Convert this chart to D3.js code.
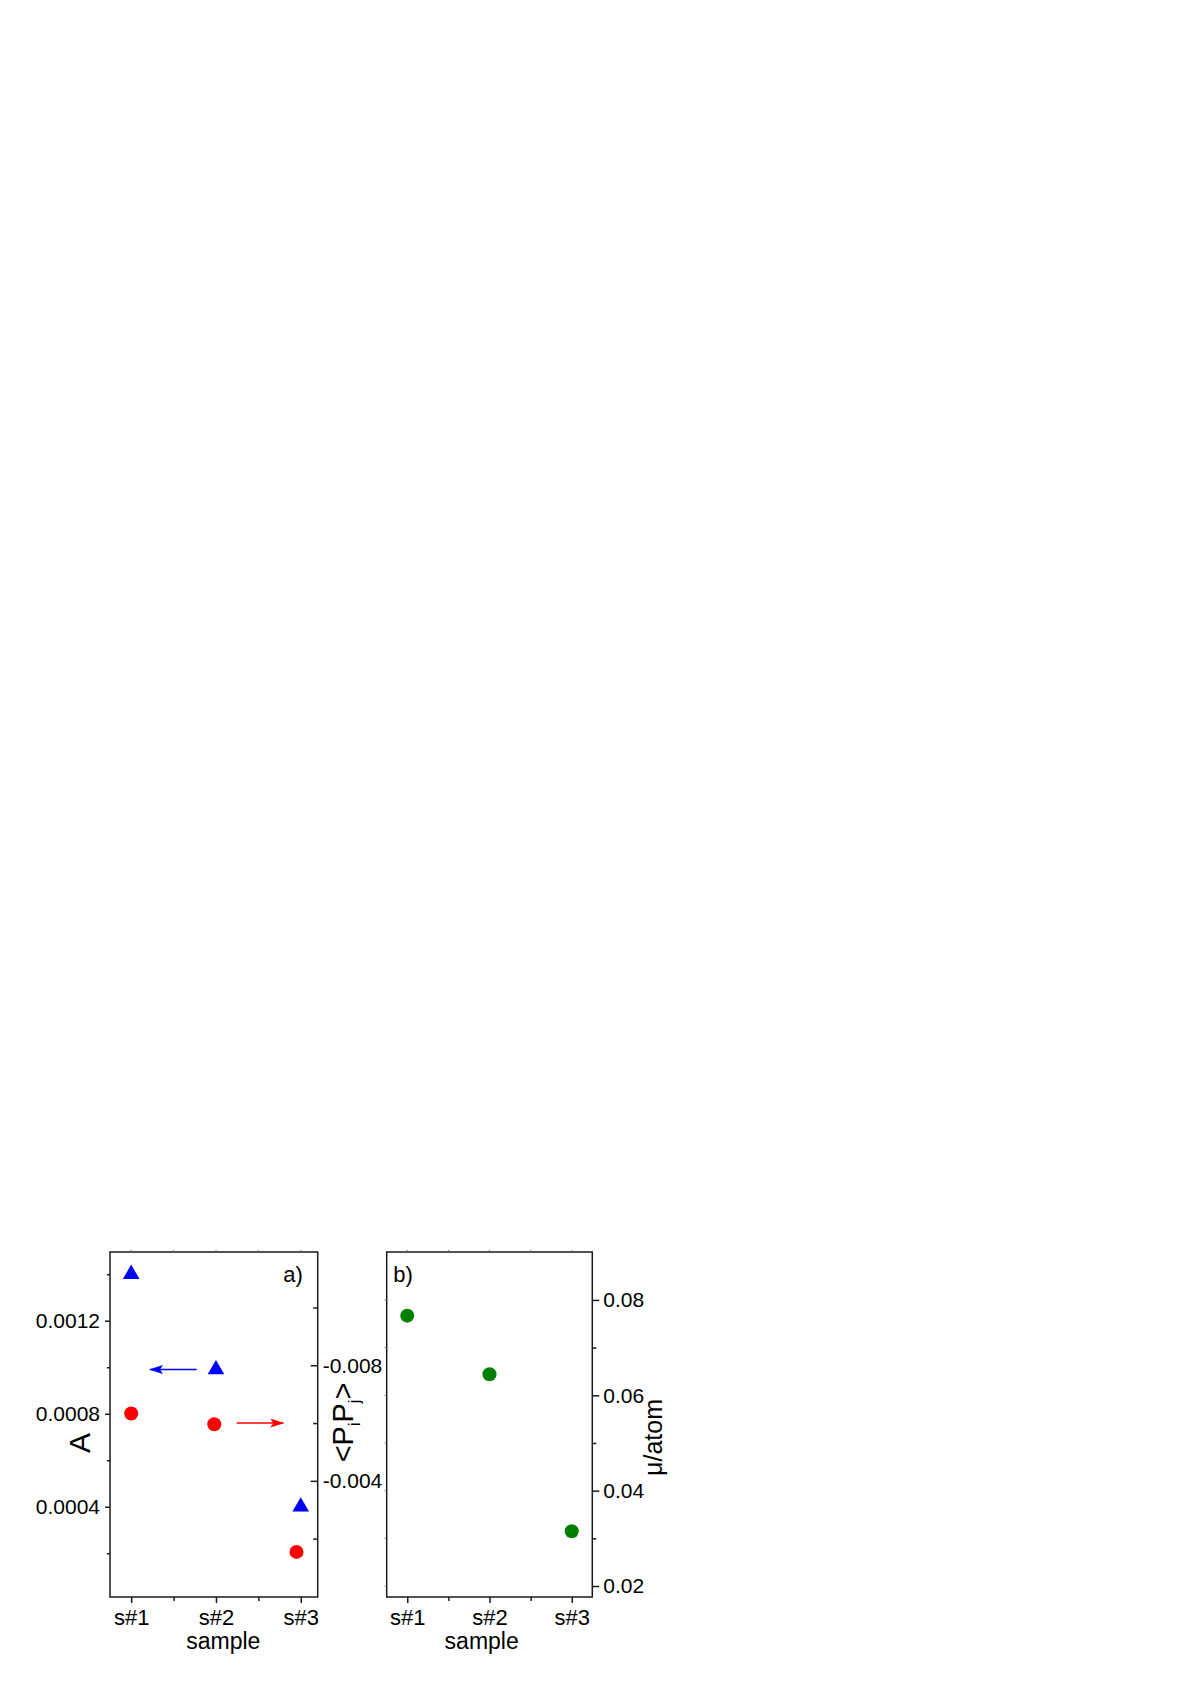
<!DOCTYPE html>
<html>
<head>
<meta charset="utf-8">
<script src="https://cdn.jsdelivr.net/npm/d3@7/dist/d3.min.js"></script>
<style>
  html, body { margin: 0; padding: 0; background: #fff; }
  svg { display: block; }
  text { font-family: "Liberation Sans", Arial, sans-serif; fill: #000; }
</style>
</head>
<body>
<svg id="chart" width="1199" height="1696"></svg>
<script>
// ---------------- data ----------------
const categories = ["s#1", "s#2", "s#3"];
const sampleX = [1, 2, 3];

// Panel a) – left axis A (blue triangles)
const aValues = [0.0014, 0.00099, 0.0004];
// Panel a) – right axis <PiPj> (red circles)
const pipjX = [1, 1.98, 2.95];
const pipjValues = [-0.00633, -0.00596, -0.00154];
// Panel b) – right axis μ/atom (green circles)
const muValues = [0.0767, 0.0644, 0.0315];

// tick values
const aTicks = [0.0004, 0.0008, 0.0012];
const aMinor = [0.0002, 0.0006, 0.0010, 0.0014];
const pTicks = [-0.008, -0.004];
const pMinor = [-0.002, -0.006, -0.010];
const muTicks = [0.02, 0.04, 0.06, 0.08];
const muMinor = [0.03, 0.05, 0.07];
const xMinor = [1.5, 2.5];

// arrow annotations (data units)
const arrowBlue = { x1: 1.773, x2: 1.222, y: 0.00099 };
const arrowRed = { x1: 2.244, x2: 2.794, y: -0.006 };

// ---------------- layout ----------------
const svg = d3.select("#chart");
const yTop = 1252, yBottom = 1597;
const pa = { left: 110, right: 317.7 };
const pb = { left: 386.7, right: 592.3 };
const axisColor = "#1a1a1a";
const tickFont = 21;

const xA = d3.scaleLinear().domain([0.75, 3.2]).range([pa.left, pa.right]);
const xB = d3.scaleLinear().domain([0.75, 3.25]).range([pb.left, pb.right]);
const yA = d3.scaleLinear().domain([0.000012, 0.0014955]).range([yBottom, yTop]);
const yP = d3.scaleLinear().domain([0.00002, -0.01192]).range([yBottom, yTop]);
const yM = d3.scaleLinear().domain([0.0177, 0.09005]).range([yBottom, yTop]);

function styleAxis(g, fs) {
  g.selectAll("path.domain").remove();
  g.selectAll("line").attr("stroke", axisColor).attr("stroke-width", 1.5);
  g.selectAll("text").attr("font-size", fs || tickFont).attr("fill", "#000")
    .style("font-family", '"Liberation Sans", Arial, sans-serif');
}

function frame(p) {
  svg.append("rect")
    .attr("x", p.left).attr("y", yTop)
    .attr("width", p.right - p.left).attr("height", yBottom - yTop)
    .attr("fill", "none").attr("stroke", axisColor).attr("stroke-width", 1.5);
}

function mirrorTop(x, vals) {
  svg.append("g").selectAll("line").data(vals).join("line")
    .attr("x1", d => x(d)).attr("x2", d => x(d))
    .attr("y1", yTop).attr("y2", yTop - 2)
    .attr("stroke", "#666").attr("stroke-width", 1);
}

function xAxis(x) {
  const g = svg.append("g").attr("transform", `translate(0,${yBottom})`)
    .call(d3.axisBottom(x).tickValues(sampleX).tickSize(6).tickPadding(5)
      .tickFormat((d, i) => categories[i]));
  styleAxis(g, 22);
  g.selectAll("text").attr("dy", null).attr("y", 28);
  const gm = svg.append("g").attr("transform", `translate(0,${yBottom})`)
    .call(d3.axisBottom(x).tickValues(xMinor).tickSize(4).tickFormat(""));
  styleAxis(gm);
  mirrorTop(x, sampleX.concat(xMinor));
}

// ---------------- Panel a ----------------
frame(pa);
xAxis(xA);

// left axis (A)
{
  const g = svg.append("g").attr("transform", `translate(${pa.left},0)`)
    .call(d3.axisLeft(yA).tickValues(aTicks).tickSize(5).tickPadding(5)
      .tickFormat(d => d.toFixed(4)));
  styleAxis(g);
  const gm = svg.append("g").attr("transform", `translate(${pa.left},0)`)
    .call(d3.axisLeft(yA).tickValues(aMinor).tickSize(3).tickFormat(""));
  styleAxis(gm);
}
// right axis (<PiPj>) – ticks inward, labels outside
{
  const g = svg.append("g").attr("transform", `translate(${pa.right},0)`)
    .call(d3.axisRight(yP).tickValues(pTicks).tickSizeInner(-7).tickSizeOuter(0).tickPadding(5)
      .tickFormat(d => d.toFixed(3)));
  styleAxis(g);
  const gm = svg.append("g").attr("transform", `translate(${pa.right},0)`)
    .call(d3.axisRight(yP).tickValues(pMinor).tickSizeInner(-4.5).tickSizeOuter(0).tickFormat(""));
  styleAxis(gm);
}

// markers
svg.append("g").selectAll("path").data(aValues).join("path")
  .attr("d", d3.symbol(d3.symbolTriangle, 120))
  .attr("transform", (d, i) => `translate(${xA(sampleX[i])},${yA(d)})`)
  .attr("fill", "#0000ff");

svg.append("g").selectAll("circle").data(pipjValues).join("circle")
  .attr("cx", (d, i) => xA(pipjX[i])).attr("cy", d => yP(d))
  .attr("r", 7).attr("fill", "#ff0000");

// arrows
const defs = svg.append("defs");
function marker(id, color) {
  defs.append("marker").attr("id", id)
    .attr("viewBox", "0 0 14 9").attr("refX", 13).attr("refY", 4.5)
    .attr("markerWidth", 14).attr("markerHeight", 9)
    .attr("markerUnits", "userSpaceOnUse").attr("orient", "auto")
    .append("path").attr("d", "M0,0 L14,4.5 L0,9 L3,4.5 Z").attr("fill", color);
}
marker("arrBlue", "#0000ff");
marker("arrRed", "#ff0000");
svg.append("line")
  .attr("x1", xA(arrowBlue.x1)).attr("x2", xA(arrowBlue.x2))
  .attr("y1", yA(arrowBlue.y)).attr("y2", yA(arrowBlue.y))
  .attr("stroke", "#0000ff").attr("stroke-width", 1.6)
  .attr("marker-end", "url(#arrBlue)");
svg.append("line")
  .attr("x1", xA(arrowRed.x1)).attr("x2", xA(arrowRed.x2))
  .attr("y1", yP(arrowRed.y)).attr("y2", yP(arrowRed.y))
  .attr("stroke", "#ff0000").attr("stroke-width", 1.6)
  .attr("marker-end", "url(#arrRed)");

// labels
svg.append("text").attr("x", 283.3).attr("y", 1282).attr("font-size", 22).text("a)");
svg.append("text").attr("transform", "translate(90,1443) rotate(-90)")
  .attr("text-anchor", "middle").attr("font-size", 30).text("A");
{
  const t = svg.append("text").attr("transform", "translate(353,1422.5) rotate(-90)")
    .attr("text-anchor", "middle").attr("font-size", 29);
  t.append("tspan").text("<P");
  t.append("tspan").attr("font-size", 16).attr("dy", 7).text("i");
  t.append("tspan").attr("dy", -7).text("P");
  t.append("tspan").attr("font-size", 16).attr("dy", 7).text("j");
  t.append("tspan").attr("dy", -7).text(">");
}
svg.append("text").attr("x", 223.3).attr("y", 1649).attr("text-anchor", "middle")
  .attr("font-size", 23).text("sample");

// ---------------- Panel b ----------------
frame(pb);
xAxis(xB);
{
  const g = svg.append("g").attr("transform", `translate(${pb.right},0)`)
    .call(d3.axisRight(yM).tickValues(muTicks).tickSize(7).tickPadding(4)
      .tickFormat(d => d.toFixed(2)));
  styleAxis(g);
  const gm = svg.append("g").attr("transform", `translate(${pb.right},0)`)
    .call(d3.axisRight(yM).tickValues(muMinor).tickSize(4).tickFormat(""));
  styleAxis(gm);
  // faint mirror ticks on left border
  svg.append("g").selectAll("line").data(muTicks.concat(muMinor)).join("line")
    .attr("x1", pb.left).attr("x2", pb.left - 2)
    .attr("y1", d => yM(d)).attr("y2", d => yM(d))
    .attr("stroke", "#666").attr("stroke-width", 1);
}
svg.append("g").selectAll("circle").data(muValues).join("circle")
  .attr("cx", (d, i) => xB(sampleX[i])).attr("cy", d => yM(d))
  .attr("r", 7).attr("fill", "#008000");

svg.append("text").attr("x", 393.3).attr("y", 1282).attr("font-size", 22).text("b)");
svg.append("text").attr("transform", "translate(662,1437.5) rotate(-90)")
  .attr("text-anchor", "middle").attr("font-size", 25).text("μ/atom");
svg.append("text").attr("x", 481.7).attr("y", 1649).attr("text-anchor", "middle")
  .attr("font-size", 23).text("sample");
</script>
</body>
</html>
